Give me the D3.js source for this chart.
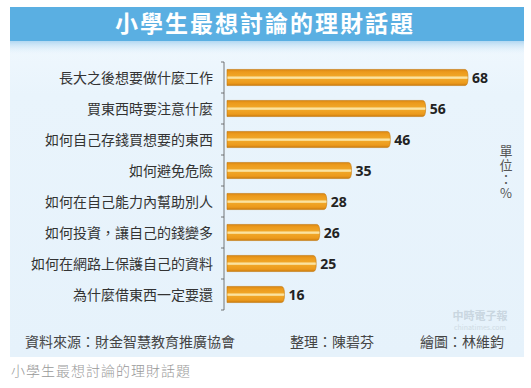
<!DOCTYPE html>
<html>
<head>
<meta charset="UTF-8" />
<title>小學生最想討論的理財話題</title>
<script src="https://d3js.org/d3.v7.min.js"></script>
<style>
  body { margin: 0; background: #fff; }
  text { font-family: "Noto Sans CJK TC", "Noto Sans", sans-serif; }
</style>
</head>
<body>
<svg id="chart" width="531" height="388"></svg>
<script>
// data
const topics = [
  "長大之後想要做什麼工作",
  "買東西時要注意什麼",
  "如何自己存錢買想要的東西",
  "如何避免危險",
  "如何在自己能力內幫助別人",
  "如何投資，讓自己的錢變多",
  "如何在網路上保護自己的資料",
  "為什麼借東西一定要還"
]
const percents = [68, 56, 46, 35, 28, 26, 25, 16]
const title = "小學生最想討論的理財話題"
const footers = ["資料來源：財金智慧教育推廣協會", "整理：陳碧芬", "繪圖：林維鈞"]
const unitLabel = "單位：%"

const svg = d3.select("#chart")
const defs = svg.append("defs")

// panel bg
const bgGrad = defs.append("linearGradient").attr("id", "bg").attr("x1", 0).attr("x2", 0).attr("y1", 0).attr("y2", 1)
bgGrad.append("stop").attr("offset", "0%").attr("stop-color", "#f4faff")
bgGrad.append("stop").attr("offset", "25%").attr("stop-color", "#e9f4fc")
bgGrad.append("stop").attr("offset", "100%").attr("stop-color", "#e6f2fb")

const bandGrad = defs.append("linearGradient").attr("id", "band").attr("x1", 0).attr("x2", 0).attr("y1", 0).attr("y2", 1)
bandGrad.append("stop").attr("offset", "0%").attr("stop-color", "#a9d3f0")
bandGrad.append("stop").attr("offset", "100%").attr("stop-color", "#f2f9fe").attr("stop-opacity", 0)

const barGrad = defs.append("linearGradient").attr("id", "bar").attr("x1", 0).attr("x2", 0).attr("y1", 0).attr("y2", 1)
barGrad.append("stop").attr("offset", "0%").attr("stop-color", "#d98612")
barGrad.append("stop").attr("offset", "15%").attr("stop-color", "#ec9a1c")
barGrad.append("stop").attr("offset", "40%").attr("stop-color", "#f0a526")
barGrad.append("stop").attr("offset", "47%").attr("stop-color", "#fbe3a0")
barGrad.append("stop").attr("offset", "55%").attr("stop-color", "#fbe3a0")
barGrad.append("stop").attr("offset", "62%").attr("stop-color", "#f0a526")
barGrad.append("stop").attr("offset", "85%").attr("stop-color", "#ec9a1c")
barGrad.append("stop").attr("offset", "100%").attr("stop-color", "#c97a0e")

svg.append("rect").attr("x", 10).attr("y", 7).attr("width", 514).attr("height", 350).attr("fill", "url(#bg)")
svg.append("rect").attr("x", 10).attr("y", 40).attr("width", 514).attr("height", 16).attr("fill", "url(#band)")
svg.append("rect").attr("x", 10).attr("y", 7).attr("width", 514).attr("height", 34).attr("fill", "#5aafe2")

svg.append("text")
  .attr("x", 265).attr("y", 32)
  .attr("text-anchor", "middle")
  .attr("fill", "#fff")
  .style("font-size", "23px").style("font-weight", "bold").style("letter-spacing", "2px")
  .text(title)

// scales
const xScale = d3.scaleLinear().domain([0, 68]).range([227, 467])
const yScale = d3.scaleBand().domain(topics).range([62, 310]).paddingInner(0.48).paddingOuter(0.24)

// axis
const yAxis = d3.axisLeft(yScale).tickSize(0).tickFormat("")
svg.append("g").attr("transform", "translate(224,0)").call(yAxis)
  .call(g => g.select(".domain").attr("stroke", "#555").attr("stroke-width", 0.8).attr("d", "M-3,62H0V310H-3"))
const step = yScale.step()
svg.append("g").selectAll("line")
  .data(d3.range(1, topics.length))
  .join("line")
  .attr("x1", 221).attr("x2", 224)
  .attr("y1", i => 62 + i * step).attr("y2", i => 62 + i * step)
  .attr("stroke", "#555").attr("stroke-width", 0.8)

// labels
svg.append("g").selectAll("text")
  .data(topics)
  .join("text")
  .attr("x", 213)
  .attr("y", d => yScale(d) + yScale.bandwidth() / 2)
  .attr("dy", "0.36em")
  .attr("text-anchor", "end")
  .attr("fill", "#333")
  .style("font-size", "14px")
  .text(d => d)

// bars
const h = yScale.bandwidth()
svg.append("g").selectAll("path")
  .data(percents)
  .join("path")
  .attr("d", (d, i) => {
    const x0 = xScale(0), x1 = xScale(d), y0 = yScale(topics[i])
    return `M${x0},${y0}H${x1 - 2}Q${x1 + 1},${y0} ${x1 + 1},${y0 + h / 2}Q${x1 + 1},${y0 + h} ${x1 - 2},${y0 + h}H${x0}Z`
  })
  .attr("fill", "url(#bar)")
  .attr("stroke", "#c4780c").attr("stroke-width", 0.6)

svg.append("g").selectAll("text")
  .data(percents)
  .join("text")
  .attr("x", d => xScale(d) + 5)
  .attr("y", (d, i) => yScale(topics[i]) + h / 2)
  .attr("dy", "0.36em")
  .attr("fill", "#222")
  .style("font-size", "14px").style("font-weight", "bold")
  .style("font-family", "'Open Sans', 'Noto Sans', sans-serif")
  .text(d => d)

// unit, vertical
svg.append("text")
  .attr("x", 506).attr("y", 145)
  .attr("fill", "#555")
  .style("font-size", "13px")
  .style("writing-mode", "vertical-rl")
  .style("text-orientation", "upright")
  .style("letter-spacing", "1px")
  .text(unitLabel)

// watermark
const wm = svg.append("text").attr("text-anchor", "middle")
wm.append("tspan").attr("x", 480).attr("y", 320)
  .attr("fill", "#c9d6e0").style("font-size", "11px").style("font-weight", "bold").text("中時電子報")
wm.append("tspan").attr("x", 480).attr("y", 330)
  .attr("fill", "#cfdbe4").style("font-size", "7px").text("chinatimes.com")

// footer
const footX = [25, 290, 420]
svg.append("g").selectAll("text")
  .data(footers)
  .join("text")
  .attr("x", (d, i) => footX[i])
  .attr("y", 347)
  .attr("fill", "#444")
  .style("font-size", "14px")
  .text(d => d)

svg.append("text")
  .attr("x", 11).attr("y", 376)
  .attr("fill", "#999")
  .style("font-size", "14px").style("font-weight", 300).style("letter-spacing", "1px")
  .text(title)
</script>
</body>
</html>
